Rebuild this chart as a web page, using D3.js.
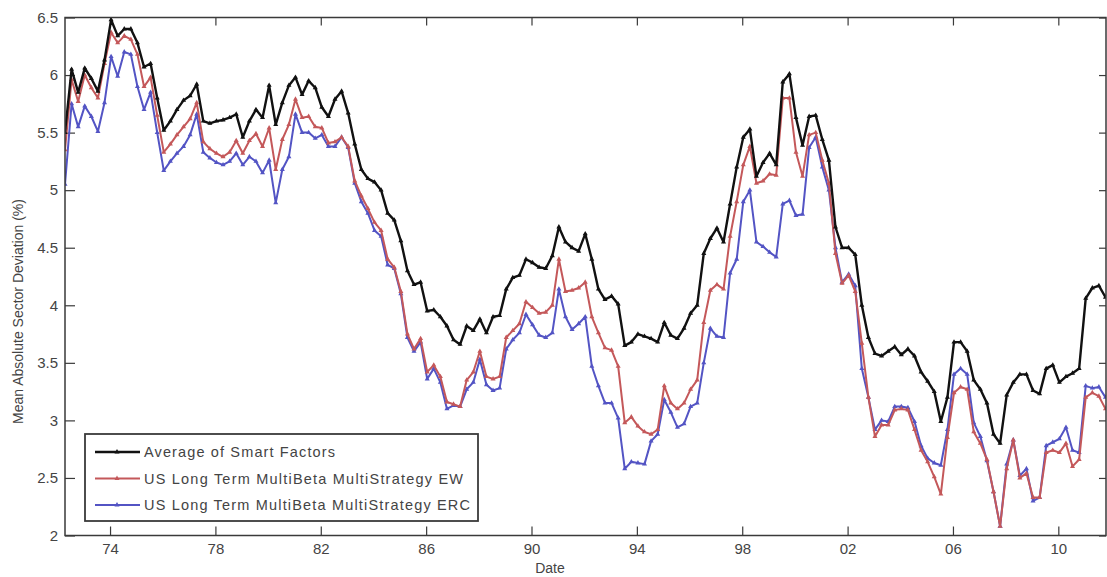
<!DOCTYPE html>
<html>
<head>
<meta charset="utf-8">
<script src="https://cdn.jsdelivr.net/npm/d3@7"></script>
<style>
    body { margin: 0; background: #fff; }
    svg { display: block; font-family: "Liberation Sans", Arial, sans-serif; }
</style>
</head>
<body>
<svg id="chart" width="1107" height="577"></svg>
<script>

// premier trimestre affiché et pas entre deux points (en années)
const firstDate = 1972.29;
const step = 0.25;

// Average of Smart Factors
const smartFactors = [
    5.50, 6.05, 5.85,
    6.06, 5.97, 5.86, 6.13,
    6.48, 6.34, 6.40, 6.40,
    6.28, 6.07, 6.10, 5.80,
    5.52, 5.60, 5.70, 5.78,
    5.82, 5.92, 5.60, 5.58,
    5.60, 5.61, 5.63, 5.66,
    5.46, 5.60, 5.70, 5.63,
    5.91, 5.57, 5.76, 5.91,
    5.98, 5.83, 5.95, 5.89,
    5.72, 5.64, 5.79, 5.86,
    5.67, 5.40, 5.18, 5.10,
    5.07, 5.00, 4.80, 4.74,
    4.56, 4.30, 4.18, 4.20,
    3.95, 3.96, 3.90, 3.82,
    3.70, 3.66, 3.82, 3.78,
    3.88, 3.76, 3.90, 3.91,
    4.14, 4.24, 4.26, 4.40,
    4.37, 4.33, 4.32, 4.43,
    4.68, 4.55, 4.50, 4.47,
    4.62, 4.40, 4.14, 4.05,
    4.08, 4.01, 3.65, 3.68,
    3.75, 3.73, 3.71, 3.68,
    3.85, 3.74, 3.71, 3.80,
    3.93, 4.00, 4.45, 4.58,
    4.67, 4.55, 4.88, 5.20,
    5.46, 5.53, 5.12, 5.24,
    5.32, 5.22, 5.94, 6.01,
    5.63, 5.39, 5.64, 5.65,
    5.44, 5.26, 4.68, 4.50,
    4.50, 4.44, 4.00, 3.72,
    3.58, 3.56, 3.60, 3.64,
    3.57, 3.62, 3.56, 3.42,
    3.34, 3.25, 2.99, 3.20,
    3.68, 3.68, 3.60, 3.35,
    3.27, 3.15, 2.88, 2.80,
    3.22, 3.33, 3.40, 3.40,
    3.26, 3.23, 3.45, 3.48,
    3.33, 3.38, 3.41, 3.45,
    4.06, 4.15, 4.17, 4.07
];

// US Long Term MultiBeta MultiStrategy EW
const multiEW = [
    5.35, 5.96, 5.77,
    6.00, 5.89, 5.80, 6.10,
    6.37, 6.28, 6.34, 6.31,
    6.18, 5.90, 5.98, 5.65,
    5.33, 5.40, 5.48, 5.55,
    5.62, 5.76, 5.42, 5.36,
    5.32, 5.29, 5.33, 5.43,
    5.32, 5.43, 5.49, 5.38,
    5.54, 5.18, 5.44, 5.57,
    5.79, 5.63, 5.64, 5.55,
    5.54, 5.41, 5.42, 5.46,
    5.38, 5.08, 4.95, 4.84,
    4.72, 4.65, 4.40, 4.33,
    4.12, 3.75, 3.62, 3.71,
    3.42, 3.48, 3.38, 3.16,
    3.14, 3.12, 3.35, 3.42,
    3.60, 3.38, 3.36, 3.38,
    3.72, 3.78, 3.84, 4.03,
    3.98, 3.93, 3.94, 4.00,
    4.40, 4.12, 4.13, 4.15,
    4.20, 3.90, 3.76, 3.63,
    3.61, 3.47, 2.98, 3.03,
    2.95, 2.90, 2.88, 2.92,
    3.30, 3.15, 3.10, 3.15,
    3.27, 3.35, 3.85, 4.13,
    4.18, 4.14, 4.60, 4.90,
    5.22, 5.38, 5.06, 5.08,
    5.14, 5.13, 5.80, 5.80,
    5.33, 5.12, 5.48, 5.50,
    5.26, 5.06, 4.45, 4.19,
    4.26, 4.12, 3.67, 3.20,
    2.86, 2.96, 2.96, 3.09,
    3.10, 3.09, 2.92, 2.74,
    2.64, 2.51, 2.36, 2.85,
    3.24, 3.29, 3.27, 2.90,
    2.80, 2.66, 2.38, 2.08,
    2.58, 2.83, 2.50, 2.54,
    2.33, 2.33, 2.72, 2.74,
    2.72, 2.80, 2.60, 2.66,
    3.20, 3.24, 3.21, 3.10
];

// US Long Term MultiBeta MultiStrategy ERC
const multiERC = [
    5.05, 5.75, 5.55,
    5.73, 5.64, 5.51, 5.76,
    6.16, 5.99, 6.20, 6.18,
    5.90, 5.70, 5.85, 5.50,
    5.17, 5.25, 5.32, 5.38,
    5.48, 5.66, 5.33, 5.28,
    5.24, 5.22, 5.25, 5.32,
    5.22, 5.29, 5.25, 5.15,
    5.26, 4.89, 5.18, 5.29,
    5.66, 5.50, 5.50, 5.45,
    5.48, 5.38, 5.38, 5.46,
    5.37, 5.06, 4.90, 4.80,
    4.65, 4.60, 4.35, 4.32,
    4.10, 3.72, 3.60, 3.68,
    3.36, 3.45, 3.33, 3.10,
    3.13, 3.12, 3.27, 3.33,
    3.53, 3.31, 3.26, 3.28,
    3.62, 3.70, 3.76, 3.92,
    3.83, 3.74, 3.72, 3.76,
    4.14, 3.90, 3.79, 3.84,
    3.90, 3.47, 3.30, 3.15,
    3.15, 3.02, 2.58, 2.64,
    2.63, 2.62, 2.82, 2.88,
    3.18, 3.07, 2.94, 2.97,
    3.12, 3.15, 3.50, 3.80,
    3.73, 3.72, 4.28, 4.40,
    4.90, 5.00, 4.55, 4.51,
    4.46, 4.42, 4.88, 4.91,
    4.78, 4.79, 5.37, 5.46,
    5.20, 5.00, 4.50, 4.20,
    4.27, 4.17, 3.45, 3.20,
    2.92, 3.00, 2.99, 3.12,
    3.12, 3.11, 2.99, 2.78,
    2.67, 2.63, 2.61, 2.92,
    3.40, 3.45, 3.40, 2.98,
    2.86, 2.65, 2.38, 2.08,
    2.62, 2.83, 2.52, 2.58,
    2.30, 2.33, 2.78, 2.81,
    2.84, 2.94, 2.74, 2.72,
    3.30, 3.28, 3.29, 3.20
];

const seriesNames = [
    "Average of Smart Factors",
    "US Long Term MultiBeta MultiStrategy EW",
    "US Long Term MultiBeta MultiStrategy ERC"
];
const seriesColors = ["#111111", "#c4585a", "#5354c4"];
// largeur des textes de la légende dans l'image d'origine
const legendTextWidths = [191, 319, 326];

const xTicks = [1974, 1978, 1982, 1986, 1990, 1994, 1998, 2002, 2006, 2010];
const xTickLabels = ["74", "78", "82", "86", "90", "94", "98", "02", "06", "10"];
const yTicks = [2, 2.5, 3, 3.5, 4, 4.5, 5, 5.5, 6, 6.5];

//Marge dans le graph
const margin = { top: 17.5, right: 1, bottom: 41.5, left: 65 };
const svgWidth = 1107, svgHeight = 577;
const graphWidth = svgWidth - margin.left - margin.right;
const graphHeight = svgHeight - margin.top - margin.bottom;

const svg = d3.select("#chart");
const container = svg.append("g")
    .attr("transform", `translate(${margin.left}, ${margin.top})`);

const dates = smartFactors.map((d, i) => firstDate + i * step);

const scaleX = d3.scaleLinear()
    .domain([1972.29, 2011.81])
    .range([0, graphWidth]);

const scaleY = d3.scaleLinear()
    .domain([2, 6.5])
    .range([graphHeight, 0]);

// axes avec ticks vers l'intérieur (style matlab)
const axisColor = "#3a3a3a";
const labelColor = "#444";

const xAxis = container.append("g")
    .attr("transform", `translate(0, ${graphHeight})`)
    .call(d3.axisBottom(scaleX).tickValues(xTicks)
        .tickFormat((d, i) => xTickLabels[i])
        .tickSizeInner(-9).tickSizeOuter(0).tickPadding(8));

const xAxisTop = container.append("g")
    .call(d3.axisTop(scaleX).tickValues(xTicks).tickFormat("")
        .tickSizeInner(-8).tickSizeOuter(0));

const yAxis = container.append("g")
    .call(d3.axisLeft(scaleY).tickValues(yTicks)
        .tickFormat(d3.format(""))
        .tickSizeInner(-10).tickSizeOuter(0).tickPadding(7));

const yAxisRight = container.append("g")
    .attr("transform", `translate(${graphWidth}, 0)`)
    .call(d3.axisRight(scaleY).tickValues(yTicks).tickFormat("")
        .tickSizeInner(-7).tickSizeOuter(0));

[xAxis, xAxisTop, yAxis, yAxisRight].forEach(a => {
    a.select(".domain").remove();
    a.selectAll(".tick line").attr("stroke", axisColor).attr("stroke-width", 1.2);
    a.selectAll(".tick text")
        .attr("fill", labelColor)
        .style("font-size", "15px");
});

// clip pour les lignes
svg.append("defs").append("clipPath").attr("id", "clip")
    .append("rect").attr("width", graphWidth).attr("height", graphHeight);

const valueLine = d3.line()
    .x((d, i) => scaleX(dates[i]))
    .y(d => scaleY(d));

const marker = d3.symbol().type(d3.symbolTriangle).size(11);

const linesContainer = container.append("g").attr("clip-path", "url(#clip)");

const allSeries = [smartFactors, multiEW, multiERC];

// on dessine dans l'ordre inverse pour que le noir soit au-dessus
[2, 1, 0].forEach(k => {
    const values = allSeries[k];
    linesContainer.append("path")
        .datum(values)
        .attr("fill", "none")
        .attr("stroke", seriesColors[k])
        .attr("stroke-width", k === 0 ? 2.4 : 2)
        .attr("stroke-linejoin", "round")
        .attr("d", valueLine);

    linesContainer.selectAll(`.mark-${k}`)
        .data(values)
        .enter()
        .append("path")
        .attr("class", `mark-${k}`)
        .attr("transform", (d, i) => `translate(${scaleX(dates[i])}, ${scaleY(d)})`)
        .attr("d", marker)
        .attr("fill", seriesColors[k]);
});

// cadre
container.append("rect")
    .attr("width", graphWidth)
    .attr("height", graphHeight)
    .attr("fill", "none")
    .attr("stroke", axisColor)
    .attr("stroke-width", 1.5);

// Titres des axes
svg.append("text")
    .attr("x", margin.left + scaleX(1990.7))
    .attr("y", 573)
    .attr("text-anchor", "middle")
    .attr("fill", labelColor)
    .style("font-size", "14px")
    .text("Date");

svg.append("text")
    .attr("transform", `translate(23, ${margin.top + graphHeight / 2 + 35}) rotate(-90)`)
    .attr("text-anchor", "middle")
    .attr("fill", labelColor)
    .style("font-size", "14px")
    .text("Mean Absolute Sector Deviation (%)");

// Légende
const legend = svg.append("g").attr("transform", "translate(85, 434)");
legend.append("rect")
    .attr("width", 393)
    .attr("height", 87)
    .attr("fill", "#fff")
    .attr("stroke", axisColor)
    .attr("stroke-width", 1.8);

seriesNames.forEach((name, i) => {
    const y = 18 + i * 26.5;
    legend.append("line")
        .attr("x1", 10).attr("x2", 55)
        .attr("y1", y).attr("y2", y)
        .attr("stroke", seriesColors[i])
        .attr("stroke-width", i === 0 ? 2.4 : 2);
    legend.append("path")
        .attr("transform", `translate(32, ${y})`)
        .attr("d", marker)
        .attr("fill", seriesColors[i]);
    legend.append("text")
        .attr("x", 59)
        .attr("y", y + 5)
        .attr("fill", labelColor)
        .attr("textLength", legendTextWidths[i])
        .attr("lengthAdjust", "spacing")
        .style("font-size", "14.5px")
        .text(name);
});

</script>
</body>
</html>
